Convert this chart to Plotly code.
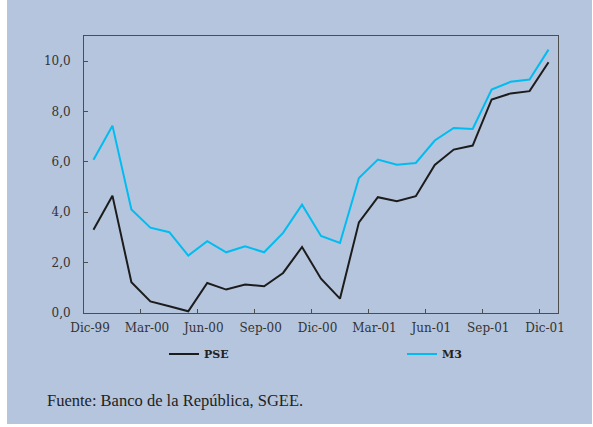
import plotly.graph_objects as go

months = ["Dic-99", "Ene-00", "Feb-00", "Mar-00", "Abr-00", "May-00", "Jun-00", "Jul-00",
          "Ago-00", "Sep-00", "Oct-00", "Nov-00", "Dic-00", "Ene-01", "Feb-01", "Mar-01",
          "Abr-01", "May-01", "Jun-01", "Jul-01", "Ago-01", "Sep-01", "Oct-01", "Nov-01", "Dic-01"]
pse = [3.31, 4.66, 1.22, 0.46, 0.27, 0.07, 1.19, 0.93, 1.13, 1.06, 1.59, 2.62, 1.36,
       0.57, 3.60, 4.60, 4.44, 4.64, 5.88, 6.49, 6.65, 8.48, 8.72, 8.81, 9.96]
m3 = [6.09, 7.44, 4.11, 3.39, 3.21, 2.28, 2.85, 2.41, 2.65, 2.41, 3.18, 4.30, 3.06,
      2.78, 5.36, 6.09, 5.89, 5.96, 6.85, 7.35, 7.31, 8.87, 9.18, 9.27, 10.46]
label_idx = [0, 3, 6, 9, 12, 15, 18, 21, 24]
ytick_vals = [0, 2, 4, 6, 8, 10]

x = list(range(len(months)))
BG = "#b5c5dd"

fig = go.Figure()
fig.add_trace(go.Scatter(x=x, y=pse, mode="lines", name="PSE",
                         line=dict(color="#1c1c1c", width=2), legend="legend"))
fig.add_trace(go.Scatter(x=x, y=m3, mode="lines", name="M3",
                         line=dict(color="#00bcf0", width=2), legend="legend2"))

W, H = 593, 427
L, R, T, B = 84, 35, 36, 114
pw, ph = W - L - R, H - T - B

def px(xp):
    return (xp - L) / pw

def py(yp):
    return (H - B - yp) / ph

fig.add_shape(type="rect", xref="paper", yref="paper", layer="below",
              x0=px(7), x1=px(592), y0=py(424), y1=py(0),
              fillcolor=BG, line=dict(width=0))

tickfont = dict(family="DejaVu Serif", size=12, color="#333333")
legfont = dict(family="DejaVu Serif", size=11, color="#222222", weight="bold")
fig.update_layout(
    width=W, height=H,
    margin=dict(l=L, r=R, t=T, b=B),
    paper_bgcolor="white",
    plot_bgcolor="rgba(0,0,0,0)",
    separators=",.",
    showlegend=True,
    xaxis=dict(range=[-0.5, 24.5], tickmode="array",
               tickvals=[i - 0.18 for i in label_idx],
               ticktext=[months[i] for i in label_idx],
               ticks="", showgrid=False, zeroline=False,
               showline=True, linecolor="#4d4d4d", linewidth=1, mirror=True,
               tickfont=tickfont, ticklabelstandoff=4,
               minor=dict(tickmode="array", tickvals=[i - 0.5 for i in label_idx[1:]],
                          ticks="inside", ticklen=4, tickwidth=1, tickcolor="#4d4d4d",
                          showgrid=False)),
    yaxis=dict(range=[0, 11], tickmode="array", tickvals=ytick_vals,
               tickformat=".1f", ticks="inside", ticklen=4, tickwidth=1,
               tickcolor="#4d4d4d", showgrid=False, zeroline=False,
               showline=True, linecolor="#4d4d4d", linewidth=1, mirror=True,
               tickfont=tickfont, ticklabelstandoff=10),
    legend=dict(x=px(164), y=py(354), xanchor="left", yanchor="middle",
                bgcolor="rgba(0,0,0,0)", itemwidth=30, font=legfont),
    legend2=dict(x=px(402), y=py(354), xanchor="left", yanchor="middle",
                 bgcolor="rgba(0,0,0,0)", itemwidth=30, font=legfont),
    annotations=[dict(text="Fuente: Banco de la República, SGEE.", xref="paper", yref="paper",
                      x=px(45), y=py(400), xanchor="left", yanchor="middle", showarrow=False,
                      font=dict(family="Liberation Serif", size=16.5, color="#222222"))],
)

fig.write_html("out.html", post_script="document.body.style.margin='0';",
               config={"displayModeBar": False})
